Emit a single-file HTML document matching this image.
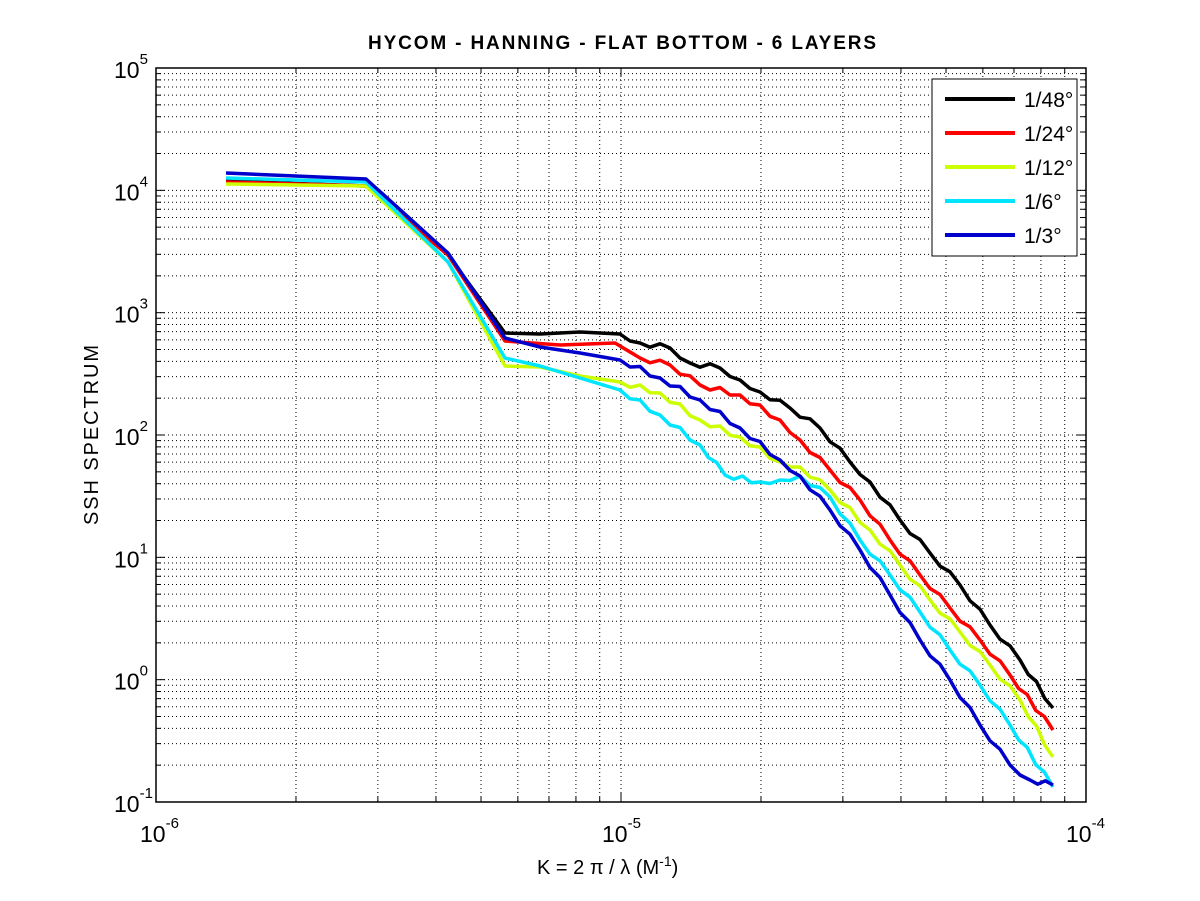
<!DOCTYPE html>
<html><head><meta charset="utf-8"><style>
body{margin:0;background:#fff;}
svg{display:block;font-family:"Liberation Sans",sans-serif;}
</style></head><body>
<svg id="s" width="1200" height="901" xmlns="http://www.w3.org/2000/svg">
<rect width="1200" height="901" fill="#fff"/>
<g id="grid"></g>
<g id="series" fill="none" stroke-width="3.5" stroke-linejoin="round"></g>
<rect x="156" y="68" width="930" height="734" fill="none" stroke="#000" stroke-width="1.5"/>
<g id="ticks" stroke="#000" stroke-width="1"></g>
<g id="labels" font-size="23" fill="#000"></g>
<text x="622" y="49" text-anchor="middle" font-size="19" font-weight="bold" textLength="508">HYCOM - HANNING - FLAT BOTTOM - 6 LAYERS</text>
<text x="537" y="874" font-size="20">K = 2 π / λ  (M<tspan dy="-8" font-size="14">-1</tspan><tspan dy="8">)</tspan></text>
<text transform="translate(98,435) rotate(-90)" text-anchor="middle" font-size="20" textLength="180">SSH SPECTRUM</text>
<rect x="932" y="79" width="145" height="177" fill="#fff" stroke="#000" stroke-width="1"/>
<g stroke-width="4">
<line x1="945" y1="99" x2="1015" y2="99" stroke="#000"/>
<line x1="945" y1="133" x2="1015" y2="133" stroke="#ff0000"/>
<line x1="945" y1="167" x2="1015" y2="167" stroke="#ccff00"/>
<line x1="945" y1="201" x2="1015" y2="201" stroke="#00e5ff"/>
<line x1="945" y1="235" x2="1015" y2="235" stroke="#0000cc"/>
</g>
<g font-size="21">
<text x="1024" y="107">1/48°</text>
<text x="1024" y="141">1/24°</text>
<text x="1024" y="175">1/12°</text>
<text x="1024" y="209">1/6°</text>
<text x="1024" y="243">1/3°</text>
</g>
</svg>
<script>
const NS="http://www.w3.org/2000/svg";
const L=156,R=1086,T=68,B=802;
const xp=v=>L+(Math.log10(v)+6)*465;
const yp=v=>B-(Math.log10(v)+1)*122.33;
const g=document.getElementById('grid'),tk=document.getElementById('ticks'),lb=document.getElementById('labels');
function ln(p,x1,y1,x2,y2,a){const e=document.createElementNS(NS,'line');e.setAttribute('x1',x1);e.setAttribute('y1',y1);e.setAttribute('x2',x2);e.setAttribute('y2',y2);for(const k in a)e.setAttribute(k,a[k]);p.appendChild(e);}
const dot={stroke:'#000','stroke-width':1,'stroke-dasharray':'1 3'};
for(let d=-6;d<-4;d++)for(let m=1;m<10;m++){const x=xp(m*Math.pow(10,d));if(x<=L+1)continue;ln(g,x,T,x,B,dot);ln(tk,x,B,x,B-(m==1?9:5));ln(tk,x,T,x,T+(m==1?9:5));}
for(let d=-1;d<5;d++)for(let m=1;m<10;m++){const y=yp(m*Math.pow(10,d));if(y>=B-1)continue;ln(g,L,y,R,y,dot);ln(tk,L,y,L+(m==1?9:5),y);ln(tk,R,y,R-(m==1?9:5),y);}
function lab(x,y,e){const t=document.createElementNS(NS,'text');t.setAttribute('x',x);t.setAttribute('y',y);t.innerHTML='10<tspan dy="-14" font-size="15">'+e+'</tspan>';lb.appendChild(t);}
for(let e=-1;e<=5;e++)lab(114,yp(Math.pow(10,e))+10,e);
lab(140,842,-6);lab(602,842,-5);lab(1066,842,-4);
function jag(p){const o=[];for(let i=0;i<p.length;i++){o.push(p[i]);if(i<p.length-1&&p[i][0]>=620){const [x1,y1]=p[i],[x2,y2]=p[i+1];const n=Math.max(1,Math.round((x2-x1)/9));for(let k=1;k<n;k++){const t=k/n;o.push([x1+(x2-x1)*t,y1+(y2-y1)*t+((k%2)?2.5:-2.5)]);}}}return o;}
const S=[
['#000',[[226,181],[366,186],[448,255],[505,333],[540,334],[580,332],[620,334],[640,343],[670,348],[690,363],[720,368],[740,380],[760,392],[790,408],[820,428],[850,462],[870,482],[900,520],[930,553],[960,585],[990,625],[1020,660],[1053,708]]],
['#ff0000',[[226,182],[366,186],[448,255],[505,341],[560,345],[615,343],[640,358],[670,365],[700,385],[740,395],[780,420],[800,440],[830,470],[860,500],[890,540],[920,575],[950,608],[980,640],[1010,675],[1053,730]]],
['#ccff00',[[226,184],[366,186],[448,262],[505,366],[540,367],[580,376],[620,382],[660,393],[700,420],[740,437],[780,462],[800,467],[830,490],[870,530],[900,565],[930,600],[960,632],[990,665],[1020,700],[1053,757]]],
['#00e5ff',[[226,178],[366,182],[448,262],[505,358],[540,366],[580,378],[620,390],[660,415],[700,445],[725,475],[760,482],[780,480],[800,476],[830,497],[860,540],[890,575],[920,612],[950,650],[980,685],[1010,725],[1053,787]]],
['#0000cc',[[226,173],[366,179],[448,253],[505,338],[540,347],[580,353],[620,360],[660,378],[700,400],[740,428],[780,460],[800,476],[830,510],[860,550],[890,595],[920,640],[950,680],[980,725],[1010,765],[1030,780],[1053,785]]]];
const sg=document.getElementById('series');
for(const [c,p] of S){const e=document.createElementNS(NS,'polyline');e.setAttribute('points',jag(p).map(q=>q.map(v=>v.toFixed(1)).join(',')).join(' '));e.setAttribute('stroke',c);sg.appendChild(e);}
</script>
</body></html>
